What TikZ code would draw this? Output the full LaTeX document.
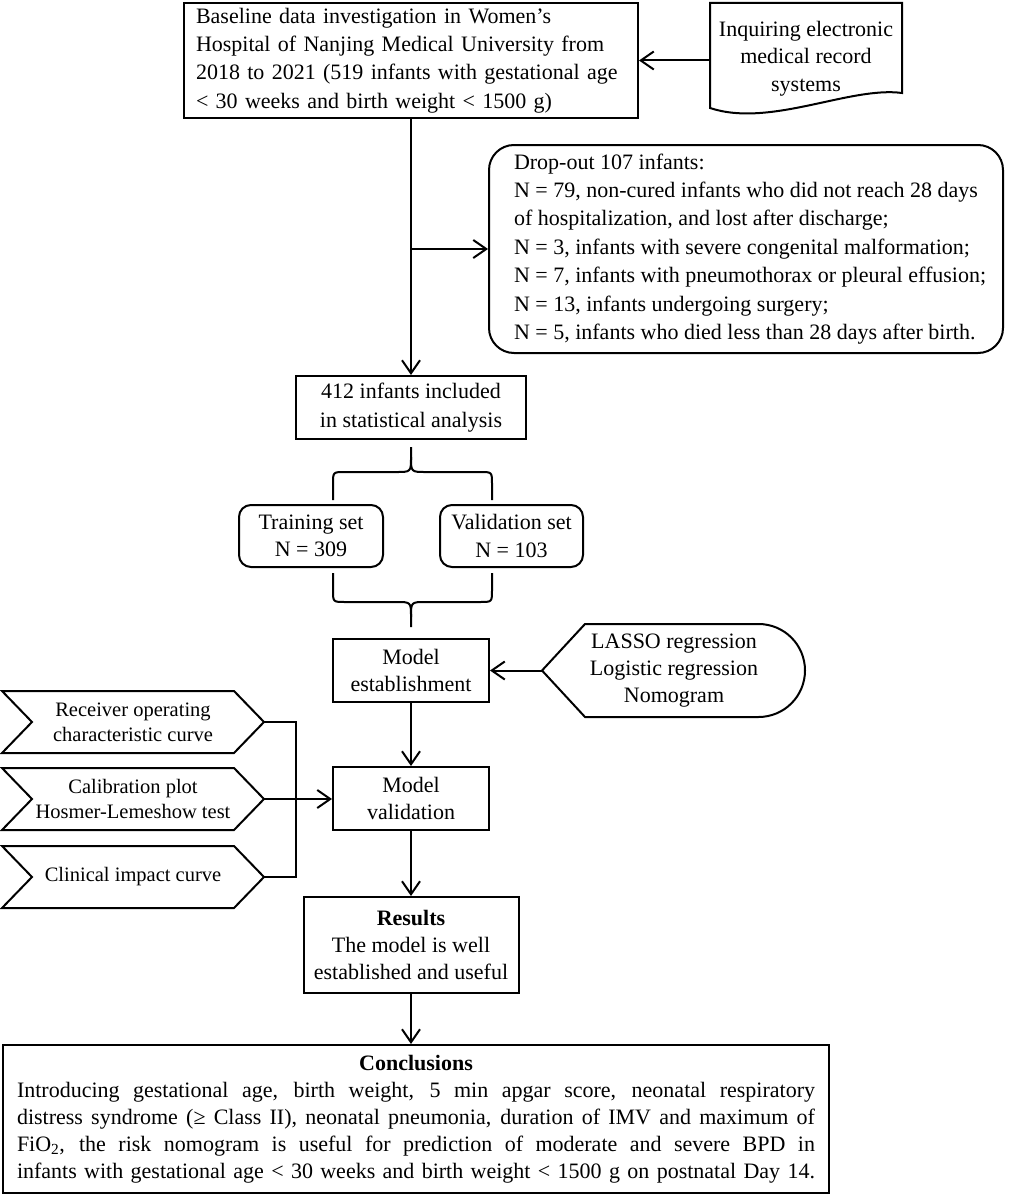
\documentclass[tikz,border=0pt]{standalone}
\usepackage{fontspec}
\setmainfont{Liberation Serif}
\usetikzlibrary{arrows.meta,calc}
\newcommand\mainsz{\fontsize{22}{28.4}\selectfont}
\newcommand\tightsz{\fontsize{22}{27.4}\selectfont}
\newcommand\chevsz{\fontsize{20.5}{25}\selectfont}
\newcommand\justline[1]{\hbox to 798pt{#1}}
\begin{document}
\begin{tikzpicture}[x=1pt,y=-1pt,line width=2pt,font=\mainsz,
  box/.style={draw,rectangle,inner sep=0pt,align=center},
  rbox/.style={box,rounded corners=12pt},
  txt/.style={inner sep=0pt,align=center},
  arr/.style={-{Straight Barb[length=13pt,width=18pt]}}]
\fill[white] (0,0) rectangle (1013,1196);
\useasboundingbox (0,0) rectangle (1013,1196);

% top box
\node[box,minimum width=454pt,minimum height=115pt,text width=430pt,align=left] (top) at (411,60.5)
 {Baseline data investigation in Women’s\\Hospital of Nanjing Medical University from\\2018 to 2021 (519 infants with gestational age\\< 30 weeks and birth weight < 1500 g)};

% document shape
\node[txt,font=\tightsz,minimum width=192pt,minimum height=105pt] (doc) at (806,58.5)
 {Inquiring electronic\\medical record\\systems};
\draw (710,3) -- (902,3) -- (902,93) .. controls (850,86) and (770,128) .. (710,108) -- cycle;

% drop-out
\node[draw,rounded corners=25pt,minimum width=514pt,minimum height=208pt,inner sep=0pt] (drop) at (746,249) {};
\node[txt,anchor=west,align=left] (droptext) at (513,249)
 {Drop-out 107 infants:\\N = 79, non-cured infants who did not reach 28 days\\of hospitalization, and lost after discharge;\\N = 3, infants with severe congenital malformation;\\N = 7, infants with pneumothorax or pleural effusion;\\N = 13, infants undergoing surgery;\\N = 5, infants who died less than 28 days after birth.};

% 412
\node[box,minimum width=230pt,minimum height=63pt] (n412) at (411,407.5) {412 infants included\\in statistical analysis};

% training / validation
\node[rbox,minimum width=144pt,minimum height=62pt,font=\tightsz] (train) at (311,536) {Training set\\N = 309};
\node[rbox,minimum width=143pt,minimum height=62pt,font=\tightsz] (valid) at (511.5,536) {Validation set\\N = 103};

% model
\node[box,minimum width=156pt,minimum height=63pt,font=\tightsz] (model) at (411,670.5) {Model\\establishment};
\node[box,minimum width=156pt,minimum height=63pt,font=\tightsz] (mval) at (411,798.5) {Model\\validation};

% lasso
\node[txt,font=\tightsz,minimum width=262pt,minimum height=93pt] (lasso) at (674,670.5)
 {LASSO regression\\Logistic regression\\Nomogram};
\draw (lasso.west) -- (585,624) -- (758.5,624)
  .. controls (784.2,624) and (805,644.8) .. (805,670.5)
  .. controls (805,696.2) and (784.2,717) .. (758.5,717) -- (585,717) -- cycle;

% chevrons
\node[txt,font=\chevsz,minimum width=260pt,minimum height=60pt] (c1) at (133,722) {Receiver operating\\characteristic curve};
\node[txt,font=\chevsz,minimum width=260pt,minimum height=60pt] (c2) at (133,799) {Calibration plot\\Hosmer-Lemeshow test};
\node[txt,font=\chevsz,minimum width=260pt,minimum height=60pt] (c3) at (133,877) {Clinical impact curve};
\foreach \c in {c1,c2,c3}{
  \draw (\c.north west) -- ($(\c.north east)+(-30,0)$) -- (\c.east) -- ($(\c.south east)+(-30,0)$)
    -- (\c.south west) -- ($(\c.west)+(30,0)$) -- cycle;
}

% results
\node[box,minimum width=215pt,minimum height=96pt,font=\tightsz] (res) at (411,945)
 {\textbf{Results}\\The model is well\\established and useful};

% conclusions
\node[box,minimum width=826pt,minimum height=148pt,font=\fontsize{22}{27}\selectfont] (concl) at (416,1119)
 {\textbf{Conclusions}\\
  \justline{Introducing gestational age, birth weight, 5 min apgar score, neonatal respiratory}\\
  \justline{distress syndrome (≥ Class II), neonatal pneumonia, duration of IMV and maximum of}\\
  \justline{FiO\textsubscript{2}, the risk nomogram is useful for prediction of moderate and severe BPD in}\\
  \justline{infants with gestational age < 30 weeks and birth weight < 1500 g on postnatal Day 14.}};

% connectors
\draw[arr] (doc.west |- top.east) -- (top.east);
\draw[arr] (top.south) -- (n412.north);
\draw[arr] (top.south |- drop.west) -- (drop.west);

% top brace
\draw ($(n412.south)+(0,7)$) -- (411,457) .. controls (411,472) .. (396,472) -- (345,472)
  .. controls (333,472) .. (333,484) -- (333,500);
\draw (411,457) .. controls (411,472) .. (426,472) -- (480,472)
  .. controls (492,472) .. (492,484) -- (492,500);
% bottom brace
\draw (333,573) -- (333,590) .. controls (333,602) .. (345,602) -- (396,602)
  .. controls (411,602) .. (411,617) -- ($(model.north)+(0,-11)$);
\draw (492,573) -- (492,590) .. controls (492,602) .. (480,602) -- (426,602)
  .. controls (411,602) .. (411,617);

\draw[arr] (lasso.west) -- (model.east);
\draw[arr] (model.south) -- (mval.north);
\draw (c1.east) -| ($(c3.east)+(32,0)$) -- (c3.east);
\draw[arr] (c2.east) -- (c2.east -| mval.west);
\draw[arr] (mval.south) -- (res.north);
\draw[arr] (res.south) -- (res.south |- concl.north);
\end{tikzpicture}
\end{document}
